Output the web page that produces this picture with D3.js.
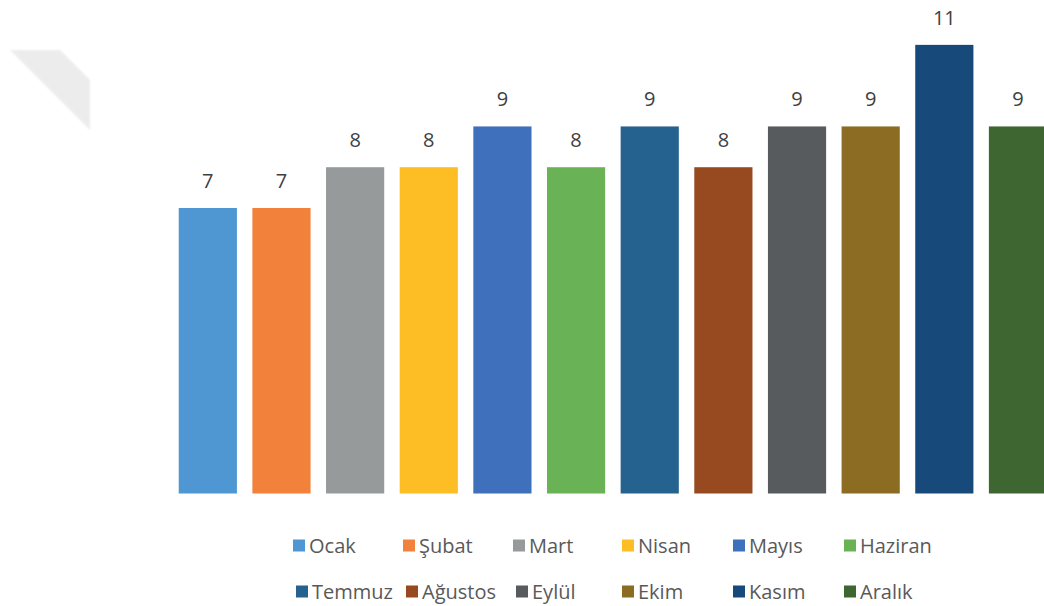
<!DOCTYPE html>
<html>
<head>
<meta charset="utf-8">
<script src="https://cdn.jsdelivr.net/npm/d3@7"></script>
<style>
  html, body { margin: 0; padding: 0; background: #fff; }
  svg { display: block; }
  text { font-family: "Open Sans", "Noto Sans", sans-serif; }
</style>
</head>
<body>
<svg id="chart" width="1044" height="606"></svg>
<script>
// Monthly values
const months = ["Ocak", "Şubat", "Mart", "Nisan", "Mayıs", "Haziran",
                "Temmuz", "Ağustos", "Eylül", "Ekim", "Kasım", "Aralık"];
const values = [7, 7, 8, 8, 9, 8, 9, 8, 9, 9, 11, 9];
const colors = ["#4e97d3", "#f1813b", "#979a9a", "#fdbd25", "#3f70bb", "#69b255",
                "#25628f", "#974a1f", "#575b5d", "#8c6b23", "#174a7a", "#3e6631"];

const svg = d3.select("#chart");

// faint decorative wedge in the upper-left corner
const defs = svg.append("defs");
defs.append("filter").attr("id", "soft")
  .append("feGaussianBlur").attr("stdDeviation", 1.2);
svg.append("path")
  .attr("d", d3.line()([[10, 50], [60, 50], [90, 80], [90, 130]]) + "Z")
  .attr("fill", "#ececec")
  .attr("filter", "url(#soft)");

// scales
const x = d3.scaleBand()
  .domain(months)
  .range([171, 171 + 12 * 73.65])
  .paddingInner(0.21)
  .paddingOuter(0.105);

const y = d3.scaleLinear()
  .domain([0, 12.1])
  .range([493.5, 0]);

// bars
svg.append("g").selectAll("rect")
  .data(months)
  .join("rect")
  .attr("x", d => x(d))
  .attr("y", (d, i) => y(values[i]))
  .attr("width", x.bandwidth())
  .attr("height", (d, i) => y(0) - y(values[i]))
  .attr("fill", (d, i) => colors[i]);

// value labels
svg.append("g").selectAll("text")
  .data(months)
  .join("text")
  .attr("x", d => x(d) + x.bandwidth() / 2)
  .attr("y", (d, i) => y(values[i]) - 20)
  .attr("text-anchor", "middle")
  .attr("font-size", 20)
  .attr("fill", "#404040")
  .text((d, i) => values[i]);

// legend: two rows of six
const legendCols = [293, 403, 513, 622, 733, 844];
const legendRows = [545.5, 591.5];
const legend = svg.append("g").selectAll("g")
  .data(months)
  .join("g")
  .attr("transform", (d, i) => `translate(${legendCols[i % 6] + (i >= 6 && i < 9 ? 3 : 0)},${legendRows[Math.floor(i / 6)]})`);

legend.append("rect")
  .attr("x", 0).attr("y", -6)
  .attr("width", 12).attr("height", 12)
  .attr("fill", (d, i) => colors[i]);

legend.append("text")
  .attr("x", 16)
  .attr("y", 0)
  .attr("dy", "0.35em")
  .attr("font-size", 20)
  .attr("fill", "#595959")
  .text(d => d);
</script>
</body>
</html>
